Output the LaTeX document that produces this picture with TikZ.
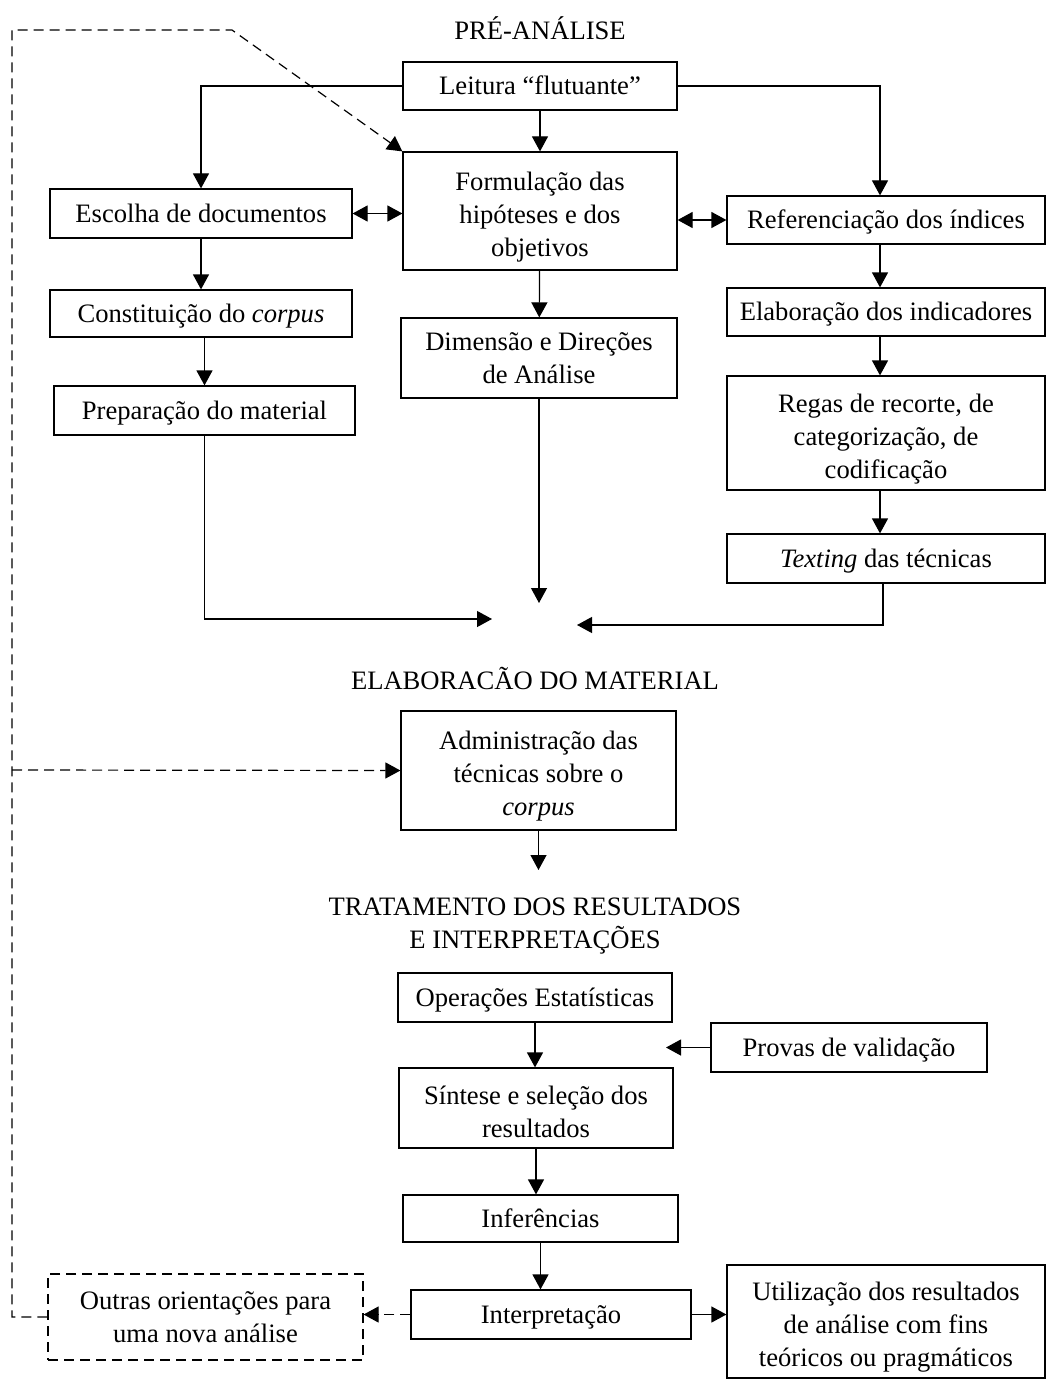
\documentclass[tikz,border=0pt]{standalone}
\usepackage{fontspec}
\setmainfont{Liberation Serif}
\usetikzlibrary{arrows.meta,positioning,calc}

\begin{document}
\begin{tikzpicture}[
      x=0.5pt, y=-0.5pt,
      font=\fontsize{13.3}{16.5}\selectfont,
      bx/.style={draw,line width=0.6pt,align=center,inner sep=2pt,minimum height=24pt},
      one/.style={bx,text height=11pt,text depth=2.5pt},
      two/.style={bx,text height=29.5pt},
      three/.style={bx,text height=48pt},
      fb/.style={dashed,dash pattern=on 5pt off 3pt,line width=0.6pt},
      ar/.style={-{Triangle[length=7.5pt,width=8pt]},line width=0.6pt},
      dar/.style={{Triangle[length=7.5pt,width=8pt]}-{Triangle[length=7.5pt,width=8pt]},line width=0.6pt}
    ]
    \useasboundingbox (0,0) rectangle (1048,1380);

    % pre-analise
    \node (tpre) at (540,28) {PRÉ-ANÁLISE};
    \node[one,minimum width=137pt] (leitura) at (540,86) {Leitura “flutuante”};
    \node[three,minimum width=137pt,minimum height=59pt] (formul) at (540,211) {Formulação das\\ hipóteses e dos\\ objetivos};
    \node[one,minimum width=151pt,minimum height=24.5pt] (escolha) at (201,213.5) {Escolha de documentos};
    \node[one,minimum width=159pt] (refer) at (886,220) {Referenciação dos índices};
    \node[one,minimum width=151pt,minimum height=23.5pt] (constit) at (201,313.5) {Constituição do \textit{corpus}};
    \node[bx,minimum width=138pt,minimum height=40pt] (dimensao) at (539,358) {Dimensão e Direções\\ de Análise};
    \node[one,minimum width=150.5pt,minimum height=24.5pt] (prepar) at (204.5,410.5) {Preparação do material};
    \node[one,minimum width=159pt] (elabor) at (886,312) {Elaboração dos indicadores};
    \node[three,minimum width=159pt,minimum height=57pt] (regas) at (886,433) {Regas de recorte, de\\ categorização, de\\ codificação};
    \node[one,minimum width=159pt,minimum height=24.5pt] (texting) at (886,558.5) {\textit{Texting} das técnicas};

    \coordinate (hubL) at (492,619);
    \coordinate (hubD) at (539,603);
    \coordinate (hubR) at (577,625);

    % elaboracao do material
    \node (telab) at (535,678) {ELABORACÃO DO MATERIAL};
    \node[three,minimum width=137.5pt,minimum height=59.5pt] (admin) at (538.5,770.5) {Administração das\\ técnicas sobre o\\ \textit{corpus}};
    \coordinate (admEnd) at (538.5,870);

    % tratamento dos resultados
    \node[align=center] (ttrat) at (535,926) {TRATAMENTO DOS RESULTADOS\\ E INTERPRETAÇÕES};
    \node[one,minimum width=137pt,minimum height=24.5pt] (operac) at (535,997.5) {Operações Estatísticas};
    \node[one,minimum width=138pt,minimum height=24.5pt] (provas) at (849,1047.5) {Provas de validação};
    \coordinate (provEnd) at (666,1047.5);
    \node[two,minimum width=137pt,minimum height=40pt] (sintese) at (536,1108) {Síntese e seleção dos\\ resultados};
    \node[one,minimum width=137.5pt,minimum height=23.5pt] (infer) at (540.5,1218.5) {Inferências};
    \node[one,minimum width=140pt,minimum height=24.5pt] (interp) at (551,1314.5) {Interpretação};
    \node[bx,fb,minimum width=157.5pt,minimum height=43pt] (outras) at (205.5,1317) {Outras orientações para\\ uma nova análise};
    \node[three,minimum width=159pt,minimum height=56.5pt] (utiliz) at (886,1321.5) {Utilização dos resultados\\ de análise com fins\\ teóricos ou pragmáticos};

    \coordinate (fbBot) at (12,1317);
    \coordinate (fbMid) at (12,770);
    \coordinate (fbTop) at (12,30);
    \coordinate (fbKnee) at (232,30);

    % connectors
    \draw[ar] (leitura.west) -| (escolha.north);
    \draw[ar] (leitura) -- (formul);
    \draw[ar] (leitura.east) -| ([xshift=-3pt]refer.north);
    \draw[dar] (escolha.east) -- (escolha.east -| formul.west);
    \draw[dar] (refer.west -| formul.east) -- (refer.west);
    \draw[ar] (escolha) -- (constit);
    \draw[ar] (constit.south -| prepar.north) -- (prepar.north);
    \draw[ar] (formul) -- (dimensao);
    \draw[ar] ([xshift=-3pt]refer.south) -- ([xshift=-3pt]elabor.north);
    \draw[ar] ([xshift=-3pt]elabor.south) -- ([xshift=-3pt]regas.north);
    \draw[ar] ([xshift=-3pt]regas.south) -- ([xshift=-3pt]texting.north);
    \draw[ar] (prepar.south) |- (hubL);
    \draw[ar] (dimensao.south) -- (hubD);
    \draw[ar] ([xshift=-1.5pt]texting.south) |- (hubR);
    \draw[ar] (admin.south) -- (admEnd);
    \draw[ar] (operac.south) -- (operac.south |- sintese.north);
    \draw[ar] (provas.west) -- (provEnd);
    \draw[ar] (sintese.south) -- (sintese.south |- infer.north);
    \draw[ar] (infer.south) -- (infer.south |- interp.north);
    \draw[ar] (interp.east) -- (interp.east -| utiliz.west);
    \draw[ar,fb] (interp.west) -- (interp.west -| outras.east);
    \draw[ar,fb] (outras.west) -- (fbBot) -- (fbTop) -- (fbKnee) -- (formul.north west);
    \draw[ar,fb] (fbMid) -- (admin.west);
  \end{tikzpicture}
\end{document}
